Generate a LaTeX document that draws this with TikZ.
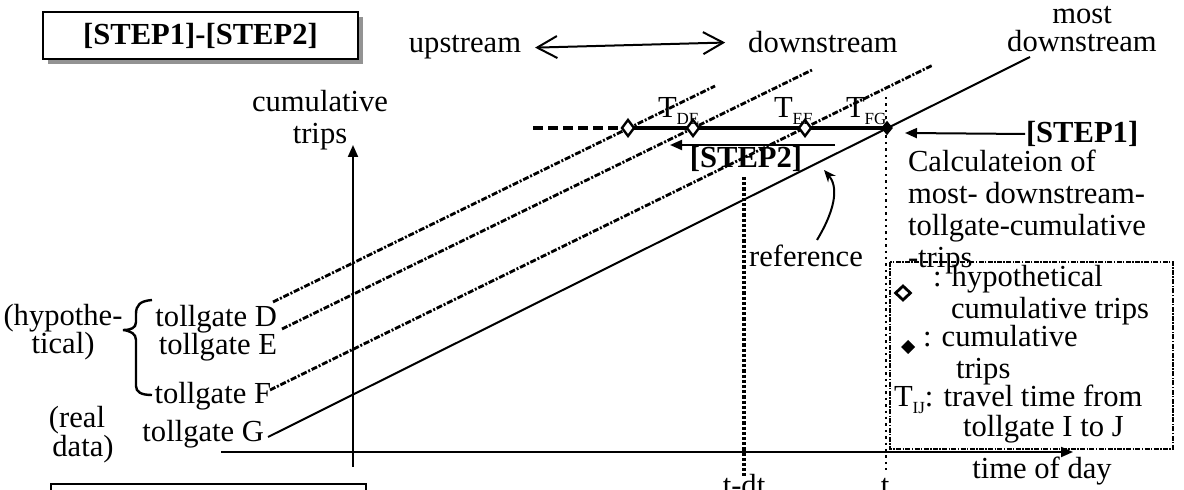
\documentclass[tikz,border=0pt]{standalone}
\usepackage{fontspec}
\setmainfont{Liberation Serif}
\usetikzlibrary{arrows.meta,calc,positioning,shapes.geometric,shadows}
\tikzset{
  lbl/.style={inner sep=0pt,align=center},
  trip lines/.style={line width=1.4pt,dash pattern=on 3pt off 0.9pt on 1pt off 0.9pt},
  hollow/.style={diamond,draw,line width=1.2pt,fill=white,inner sep=0pt,minimum width=6.5pt,minimum height=8.5pt},
  solid mark/.style={diamond,draw,fill=black,inner sep=0pt,minimum width=5pt,minimum height=6pt},
}
\newcommand{\tsub}[1]{\raisebox{-0.45ex}{\fontsize{8.5}{9}\selectfont #1}}

\begin{document}
\begin{tikzpicture}[x=0.5pt,y=-0.5pt,font=\fontsize{15.3}{16}\selectfont,>={Triangle[length=6pt,width=5pt]},line width=1pt]
\useasboundingbox (0,0) rectangle (1184,490);
% boxes
\node[draw,fill=white,inner sep=0pt,minimum width=157.5pt,minimum height=23.5pt,
  drop shadow={shadow xshift=2.5pt,shadow yshift=-2.5pt,fill=gray!85,opacity=1}] (title) at (200.5,35.5) {\textbf{[STEP1]-[STEP2]}};
\node[draw,inner sep=0pt,minimum width=157.5pt,minimum height=20pt,anchor=north west] (note) at (50,483) {};
% upstream / downstream
\node[lbl,anchor=base] (up) at (465,53) {upstream};
\node[lbl,anchor=base] (down) at (823,53) {downstream};
\draw[{Straight Barb[length=10pt,width=11pt]}-{Straight Barb[length=10pt,width=11pt]}] ([xshift=6.5pt]up.east) -- ([xshift=-11pt]down.west);
\node[lbl,anchor=south,font=\fontsize{15.3}{14}\selectfont] (most) at (1082,53) {most\\downstream};
% axes
\coordinate (xs) at (221,452);
\coordinate (xe) at (1073,452);
\coordinate (ys) at (353,467);
\coordinate (ye) at (353,145);
\draw[->] (xs) -- (xe);
\draw[->] (ys) -- (ye);
\node[lbl,anchor=north] (cum) at (320,89) {cumulative\\trips};
\node[lbl,anchor=base] (tod) at (1042,479) {time of day};
% time lines
\coordinate (tdt0) at (744,177);
\coordinate (tdt1) at (744,476);
\coordinate (t0) at (886,97);
\coordinate (t1) at (886,470);
\draw[line width=1.6pt,densely dotted] (tdt0) -- (tdt1);
\draw[line width=1.2pt,dotted] (t0) -- (t1);
\node[lbl,anchor=base] (tdt) at (744,496) {t-dt};
\node[lbl,anchor=base] (tt) at (885,496) {t};
% tollgate labels
\node[lbl,anchor=base east] (tgD) at (278,327) {tollgate D};
\node[lbl,anchor=base east] (tgE) at (278,355) {tollgate E};
\node[lbl,anchor=base east] (tgF) at (272,404) {tollgate F};
\node[lbl,anchor=base east] (tgG) at (265,442) {tollgate G};
\node[lbl,anchor=north,font=\fontsize{15.3}{14}\selectfont] (hyp) at (63,303) {(hypothe-\\tical)};
\node[lbl,anchor=north,font=\fontsize{15.3}{11.5}\selectfont] (realdata) at (77,405) {(real\\ \hspace*{6pt}data)};
\draw[line width=1.2pt] (152,300) .. controls (140,301) and (136,305) .. (136,314)
  -- (136,322) .. controls (136,328) and (131,330) .. (123,330)
  .. controls (131,331) and (136,334) .. (136,340)
  -- (136,386) .. controls (136,392) and (141,395) .. (152,395);
% cumulative trip lines
\coordinate (D0) at (273,302);
\coordinate (D1) at (715,86);
\coordinate (E0) at (282,329);
\coordinate (E1) at (812,70);
\coordinate (F0) at (270,390);
\coordinate (F1) at (933,65);
\coordinate (G0) at (268,437);
\coordinate (G1) at (1030,57);
\draw[trip lines] (D0) -- (D1);
\draw[trip lines] (E0) -- (E1);
\draw[trip lines] (F0) -- (F1);
\draw (G0) -- (G1);
% step lines
\coordinate (dash0) at (533,128);
\draw[line width=1.8pt,dash pattern=on 5pt off 2.5pt] (dash0) -- (628,128);
\draw[line width=1.8pt] (628,128) -- (887,128);
\node[hollow] (pD) at (628,128) {};
\node[hollow] (pE) at (693,128) {};
\node[hollow] (pF) at (805,128) {};
\node[solid mark] (pG) at (887,128) {};
\node[lbl,anchor=base west] (tDE) at (657,118) {T\tsub{DE}};
\node[lbl,anchor=base west] (tEF) at (773,118) {T\tsub{EF}};
\node[lbl,anchor=base west] (tFG) at (845,118) {T\tsub{FG}};
% step 2
\coordinate (s2a) at (835,145);
\coordinate (s2b) at (670,145);
\draw[->] (s2a) -- (s2b);
\node[lbl,anchor=base] (step2) at (746,168) {\textbf{[STEP2]}};
% step 1
\node[lbl,anchor=west] (step1) at (1025,134) {\textbf{[STEP1]}};
\coordinate (s1b) at (905,133);
\draw[->] (step1.west) -- (s1b);
\node[lbl,anchor=north west,align=left] (calc) at (907,149) {Calculateion of\\most- downstream-\\tollgate-cumulative\\-trips};
% reference
\node[lbl,anchor=base] (ref) at (806,267) {reference};
\coordinate (r0) at (817,240);
\coordinate (r1) at (824,170);
\draw[-{Stealth[length=6pt,width=5pt]}] (r0) .. controls (838,205) and (837,185) .. (r1);
% legend
\draw[line width=0.9pt,dash pattern=on 2.5pt off 0.7pt on 0.7pt off 0.7pt] (890,262) rectangle (1173,449);
\node[hollow,line width=1.4pt,minimum width=8pt,minimum height=7.5pt] (lgH) at (903,293) {};
\node[lbl,anchor=base west] (lgH1) at (932,287) {: hypothetical};
\node[lbl,anchor=base west] (lgH2) at (950,319) {cumulative trips};
\node[solid mark,minimum width=6pt,minimum height=6pt] (lgS) at (908,347) {};
\node[lbl,anchor=base west] (lgS1) at (922,347) {: cumulative};
\node[lbl,anchor=base west] (lgS2) at (955,379) {trips};
\node[lbl,anchor=base west] (lgT1) at (893,407) {T\tsub{IJ}: travel time from};
\node[lbl,anchor=base west] (lgT2) at (962,437) {tollgate I to J};
\end{tikzpicture}
\end{document}
